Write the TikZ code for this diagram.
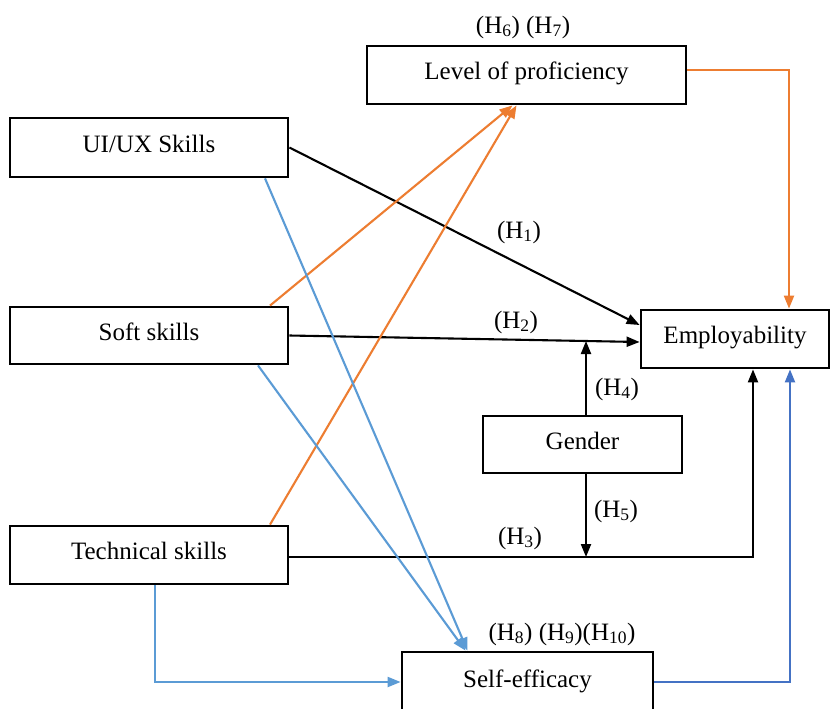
\documentclass[tikz,border=0pt]{standalone}
\usepackage{fontspec}
\setmainfont{Liberation Serif}
\usetikzlibrary{arrows.meta}
\definecolor{orng}{HTML}{ED7D31}
\definecolor{lblue}{HTML}{5B9BD5}
\definecolor{dblue}{HTML}{4472C4}
\begin{document}
\begin{tikzpicture}[x=1pt,y=-1pt,
  box/.style={draw=black,line width=2.8pt,fill=white,inner sep=0pt,text height=17pt,text depth=8pt,font=\fontsize{25}{29}\selectfont},
  lbl/.style={inner sep=0pt,font=\fontsize{25}{29}\selectfont},
  conn/.style={line width=2.1pt,-{Triangle[length=13pt,width=10pt]}},
  bconn/.style={conn,black},
  oconn/.style={conn,orng},
  uconn/.style={conn,lblue},
  dconn/.style={conn,dblue}]
\useasboundingbox (0,0) rectangle (835,709);
\clip (0,0) rectangle (835,709);
\fill[white] (0,0) rectangle (835,709);
% boxes
\node[box,minimum width=319pt,minimum height=58pt] (lop) at (526.5,75) {Level of proficiency};
\node[box,minimum width=278pt,minimum height=59pt] (uiux) at (149,147.5) {UI/UX Skills};
\node[box,minimum width=278pt,minimum height=57pt] (soft) at (149,335.5) {Soft skills};
\node[box,minimum width=278pt,minimum height=58pt] (tech) at (149,555) {Technical skills};
\node[box,minimum width=188pt,minimum height=58pt] (emp) at (735,339) {Employability};
\node[box,minimum width=199pt,minimum height=57pt] (gender) at (582.5,444.5) {Gender};
\node[box,minimum width=251pt,minimum height=62pt] (self) at (527.5,683) {Self-efficacy};
% labels
\node[lbl] (l67) at (523,27) {(H\textsubscript{6}) (H\textsubscript{7})};
\node[lbl] (l1) at (519,232) {(H\textsubscript{1})};
\node[lbl] (l2) at (516,322) {(H\textsubscript{2})};
\node[lbl] (l4) at (617,389) {(H\textsubscript{4})};
\node[lbl] (l5) at (616,511) {(H\textsubscript{5})};
\node[lbl] (l3) at (520,538) {(H\textsubscript{3})};
\node[lbl] (l810) at (562,634) {(H\textsubscript{8}) (H\textsubscript{9})(H\textsubscript{10})};
% helper coordinates
\coordinate (h2mid) at (586,341);
\coordinate (h3mid) at (586,557);
% black connectors
\draw[bconn] (uiux.east) -- ([yshift=14pt]emp.west);
\draw[bconn] (soft.east) -- ([yshift=-3pt]emp.west);
\draw[bconn] ([yshift=-2pt]tech.east) -| ([xshift=18pt]emp.south);
\draw[bconn] ([xshift=3.5pt]gender.north) -- (h2mid);
\draw[bconn] ([xshift=3.5pt]gender.south) -- (h3mid);
% orange connectors
\draw[oconn] ([xshift=121pt]soft.north) -- ([xshift=-14pt]lop.south);
\draw[oconn] ([xshift=121pt]tech.north) -- ([xshift=-10pt]lop.south);
\draw[oconn] ([yshift=5pt]lop.east) -| ([xshift=54pt]emp.north);
% blue connectors
\draw[uconn] ([xshift=116pt]uiux.south) -- ([xshift=-60pt]self.north);
\draw[uconn] ([xshift=109pt]soft.south) -- ([xshift=-62pt]self.north);
\draw[uconn] ([xshift=6pt]tech.south) |- ([yshift=1pt]self.west);
\draw[dconn] ([yshift=1pt]self.east) -| ([xshift=55pt]emp.south);
\end{tikzpicture}
\end{document}
